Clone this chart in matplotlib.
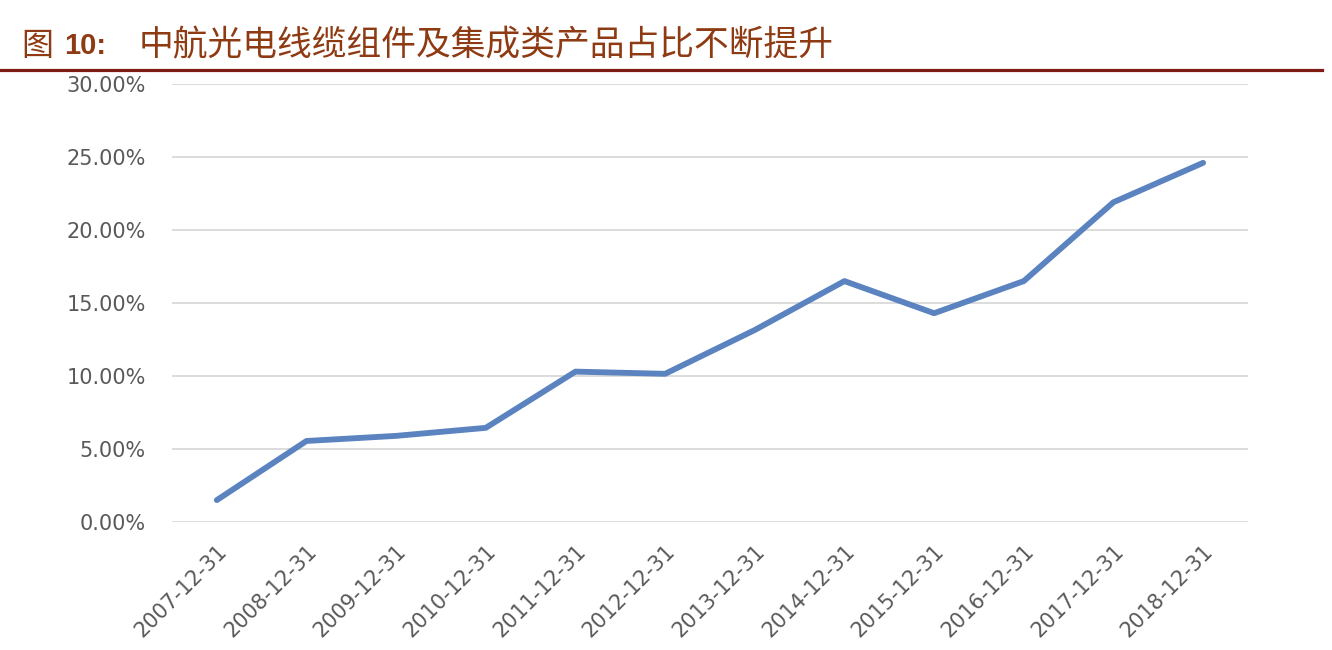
import numpy as np
import matplotlib
matplotlib.use('Agg')
import matplotlib.pyplot as plt
from matplotlib.lines import Line2D
from matplotlib.ticker import FuncFormatter

plt.rcParams['font.family'] = ['DejaVu Sans', 'Noto Sans CJK SC']

dates = ['2007-12-31', '2008-12-31', '2009-12-31', '2010-12-31', '2011-12-31', '2012-12-31',
         '2013-12-31', '2014-12-31', '2015-12-31', '2016-12-31', '2017-12-31', '2018-12-31']
share = [1.5, 5.55, 5.9, 6.45, 10.3, 10.15, 13.15, 16.5, 14.3, 16.5, 21.9, 24.6]
yticks = [0, 5, 10, 15, 20, 25, 30]

fig = plt.figure(figsize=(13.32, 6.5), dpi=100)
ax = fig.add_axes([0.1291, 0.1969, 0.8078, 0.6739])

x = np.arange(len(dates))
ax.plot(x, share, color='#5A83C0', lw=4.2, solid_capstyle='round', solid_joinstyle='round', zorder=3)

ax.set_xlim(-0.5, len(dates) - 0.5)
ax.set_ylim(0, 30)
ax.set_yticks(yticks)
ax.yaxis.set_major_formatter(FuncFormatter(lambda v, p: f'{v:.2f}%'))
ax.set_xticks(x)
ax.set_xticklabels(dates, rotation=45, ha='right', va='top', rotation_mode='anchor', fontsize=15)
ax.grid(axis='y', color='#D9D9D9', lw=1.3)
ax.set_axisbelow(True)
for s in ax.spines.values():
    s.set_visible(False)
ax.tick_params(length=0, labelcolor='#595959')
ax.tick_params(axis='y', pad=19, labelsize=15)
ax.tick_params(axis='x', pad=14)

# title block
tc = '#8E3A12'
fig.text(0.016, 0.93, '图', fontsize=23, color=tc, family='Noto Sans CJK SC', va='center')
fig.text(0.048, 0.93, '10:', fontsize=21, color=tc, weight='bold', family='Liberation Sans', va='center')
fig.text(0.104, 0.93, '中航光电线缆组件及集成类产品占比不断提升', fontsize=25, color=tc,
         family='Noto Sans CJK SC', va='center')
fig.add_artist(Line2D([0, 0.9925], [0.892, 0.892], transform=fig.transFigure, color='#7E1B12', lw=2.3))

fig.savefig('out.png', dpi=100)
